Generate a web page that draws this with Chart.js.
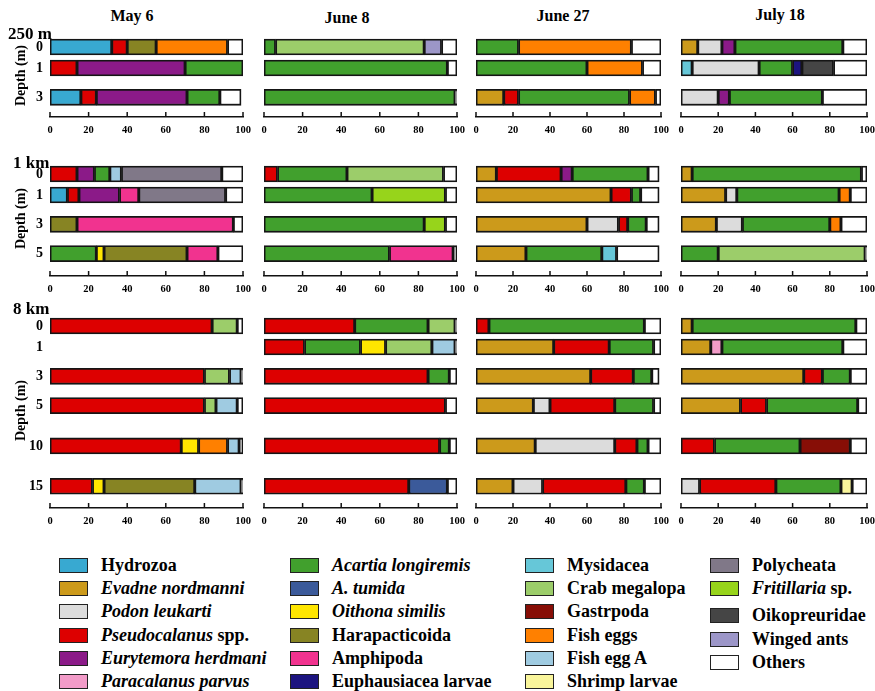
<!DOCTYPE html>
<html>
<head>
<meta charset="utf-8">
<script src="https://cdn.jsdelivr.net/npm/chart.js@4.4.1/dist/chart.umd.min.js"></script>
<style>
  html, body { margin: 0; padding: 0; background: #fff; }
  body { width: 875px; height: 691px; overflow: hidden; position: relative;
         font-family: "Liberation Serif", "Times New Roman", serif; font-weight: bold; color: #000; }
  canvas { position: absolute; }
  .lbl { position: absolute; white-space: nowrap; font-weight: bold; }
  .date { font-size: 16px; line-height: 16px; width: 120px; text-align: center; }
  .station { font-size: 17px; line-height: 17px; }
  .legcol { position: absolute; }
  .legrow { height: 23.2px; display: flex; align-items: center; font-size: 18px; white-space: nowrap; }
  .sw { width: 29px; height: 15px; box-sizing: border-box; border: 1.5px solid #222; margin-right: 13px; flex: none; }
</style>
</head>
<body>
<script>
// ---- taxa (legend order) ----
const taxonKeys = ['HYD','EVA','POD','PSE','EUR','PAR','ACA','ATU','OIT','HAR','AMP','EUP',
                   'MYS','CRA','GAS','FEG','FEA','SHR','POL','FRI','OIK','ANT','OTH'];
const taxonNames = ['Hydrozoa','Evadne nordmanni','Podon leukarti','Pseudocalanus spp.','Eurytemora herdmani',
  'Paracalanus parvus','Acartia longiremis','A. tumida','Oithona similis','Harapacticoida','Amphipoda',
  'Euphausiacea larvae','Mysidacea','Crab megalopa','Gastrpoda','Fish eggs','Fish egg A','Shrimp larvae',
  'Polycheata','Fritillaria sp.','Oikopreuridae','Winged ants','Others'];
const italicTaxa = ['Evadne nordmanni','Podon leukarti','Eurytemora herdmani','Paracalanus parvus',
  'Acartia longiremis','A. tumida','Oithona similis'];
const taxonColors = ['#38a9d1','#cc9a1b','#dcdcdc','#dd0000','#8b1a88','#f29bc8','#41a02d','#3b5a9a',
  '#ffe600','#878423','#f1338f','#1c1480','#66c7d8','#9ccd6a','#870e06','#ff8000','#9fcbe1','#f9f59b',
  '#807888','#97d41b','#454545','#9c96c8','#ffffff'];

const sampleDates = ['May 6','June 8','June 27','July 18'];
const stations = ['250 m','1 km','8 km'];
const depths250m = [0, 1, 3];
const depths1km = [0, 1, 3, 5];
const depths8km = [0, 1, 3, 5, 10, 15];
const percentTicks = [0, 20, 40, 60, 80, 100];

// ---- composition (%) per depth, segments listed left to right ----
// 250 m station
const st250_may6 = [
  [['HYD',32],['PSE',8],['HAR',15],['FEG',37],['OTH',8]],
  [['PSE',14],['EUR',56],['ACA',30],['OTH',1]],
  [['HYD',16],['PSE',8],['EUR',47],['ACA',17],['OTH',11]]
];
const st250_jun8 = [
  [['ACA',6],['CRA',77],['ANT',9],['OTH',8]],
  [['ACA',95],['OTH',5]],
  [['ACA',99],['OTH',1]]
];
const st250_jun27 = [
  [['ACA',23],['FEG',61],['OTH',16]],
  [['ACA',60],['FEG',30],['OTH',10]],
  [['EVA',15],['PSE',8],['ACA',60],['FEG',14],['OTH',3]]
];
const st250_jul18 = [
  [['EVA',9],['POD',13],['EUR',7],['ACA',58],['OTH',13]],
  [['MYS',6],['POD',36],['ACA',18],['EUP',5],['OIK',17],['OTH',18]],
  [['POD',20],['EUR',6],['ACA',50],['OTH',24]]
];
// 1 km station
const st1k_may6 = [
  [['PSE',14],['EUR',9],['ACA',8],['FEA',6],['POL',52],['OTH',11]],
  [['HYD',9],['PSE',6],['EUR',21],['AMP',10],['POL',45],['OTH',9]],
  [['HAR',14],['AMP',81],['OTH',5]],
  [['ACA',24],['OIT',4],['HAR',43],['AMP',16],['OTH',13]]
];
const st1k_jun8 = [
  [['PSE',7],['ACA',36],['CRA',50],['OTH',7]],
  [['ACA',56],['FRI',38],['OTH',6]],
  [['ACA',83],['FRI',11],['OTH',6]],
  [['ACA',65],['AMP',33],['OTH',2]]
];
const st1k_jun27 = [
  [['EVA',11],['PSE',35],['EUR',6],['ACA',41],['OTH',6]],
  [['EVA',73],['PSE',11],['ACA',5],['OTH',10]],
  [['EVA',60],['POD',17],['PSE',5],['ACA',10],['OTH',7]],
  [['EVA',27],['ACA',41],['MYS',8],['OTH',23]]
];
const st1k_jul18 = [
  [['EVA',6],['ACA',91],['OTH',3]],
  [['EVA',24],['POD',6],['ACA',55],['FEG',6],['OTH',9]],
  [['EVA',19],['POD',14],['ACA',47],['FEG',6],['OTH',14]],
  [['ACA',20],['CRA',79],['OTH',1]]
];
// 8 km station
const st8k_may6 = [
  [['PSE',84],['CRA',13],['OTH',3]],
  [],
  [['PSE',80],['CRA',13],['FEA',6],['OTH',1]],
  [['PSE',80],['CRA',6],['FEA',11],['OTH',3]],
  [['PSE',68],['OIT',9],['FEG',15],['FEA',6],['OTH',2]],
  [['PSE',22],['OIT',6],['HAR',47],['FEA',24],['OTH',1]]
];
const st8k_jun8 = [
  [['PSE',47],['ACA',38],['CRA',14],['OTH',1]],
  [['PSE',21],['ACA',29],['OIT',13],['CRA',24],['FEA',12],['OTH',1]],
  [['PSE',85],['ACA',11],['OTH',4]],
  [['PSE',94],['OTH',6]],
  [['PSE',91],['ACA',5],['OTH',4]],
  [['PSE',75],['ATU',20],['OTH',5]]
];
const st8k_jun27 = [
  [['PSE',7],['ACA',84],['OTH',9]],
  [['EVA',42],['PSE',30],['ACA',24],['OTH',4]],
  [['EVA',62],['PSE',23],['ACA',10],['OTH',4]],
  [['EVA',31],['POD',9],['PSE',35],['ACA',21],['OTH',4]],
  [['EVA',32],['POD',43],['PSE',12],['ACA',6],['OTH',7]],
  [['EVA',20],['POD',16],['PSE',45],['ACA',10],['OTH',9]]
];
const st8k_jul18 = [
  [['EVA',6],['ACA',88],['OTH',6]],
  [['EVA',16],['PAR',6],['ACA',65],['OTH',13]],
  [['EVA',66],['PSE',10],['ACA',15],['OTH',9]],
  [['EVA',32],['PSE',14],['ACA',49],['OTH',5]],
  [['PSE',18],['ACA',46],['GAS',27],['OTH',9]],
  [['POD',10],['PSE',41],['ACA',35],['SHR',6],['OTH',8]]
];

// ---- page layout ----
const colRange = [[50, 243], [264, 457], [476, 661], [681, 867]];   // pixel span of 0..100 %
const groupLayout = [
  { depths: depths250m, panels: [st250_may6, st250_jun8, st250_jun27, st250_jul18], top: 47,  axis: 117 },
  { depths: depths1km,  panels: [st1k_may6, st1k_jun8, st1k_jun27, st1k_jul18],     top: 174, axis: 276 },
  { depths: depths8km,  panels: [st8k_may6, st8k_jun8, st8k_jun27, st8k_jul18],     top: 326, axis: 508 }
];
const BAR_PAD = 13;      // space above the first bar
const XAXIS_H = 24;      // height reserved for the percent labels
const YAXIS_W = 50;      // depth labels + axis title in the first column
const FONT = '"Liberation Serif", "Times New Roman", serif';

// Rows are placed on a compressed depth scale so deep casts stay compact
function depthSlots(depths) {
  const out = [0];
  for (let i = 1; i < depths.length; i++) {
    out.push(out[i - 1] + 21 + 12 * Math.log(depths[i] - depths[i - 1]));
  }
  return out;
}

// Tick marks on the percent axis point up into the plot
const inwardTicks = {
  id: 'inwardTicks',
  afterDraw(chart) {
    const xs = chart.scales.x, c = chart.ctx;
    c.save();
    c.strokeStyle = '#111';
    c.lineWidth = 1.5;
    xs.ticks.forEach(t => {
      const px = xs.getPixelForValue(t.value);
      c.beginPath();
      c.moveTo(px, xs.top);
      c.lineTo(px, xs.top - 5);
      c.stroke();
    });
    c.restore();
  }
};

function buildDatasets(bars, slots) {
  return taxonKeys.map((key, ti) => {
    const pts = [];
    bars.forEach((segs, di) => {
      let start = 0;
      segs.forEach(([k, v]) => {
        if (k === key) pts.push({ x: [start, start + v], y: slots[di] });
        start += v;
      });
    });
    return {
      label: taxonNames[ti],
      data: pts,
      backgroundColor: taxonColors[ti],
      borderColor: '#151515',
      borderWidth: 1.8,
      borderSkipped: false,
      barThickness: 16,
      grouped: false
    };
  }).filter(ds => ds.data.length);
}

function makePanel(group, col) {
  const slots = depthSlots(group.depths);
  const [L, R] = colRange[col];
  const first = col === 0;
  const padL = first ? 0 : 12;
  const padR = 8;
  const yW = first ? YAXIS_W : 0;
  const left = L - yW - padL;
  const width = (R - L) + yW + padL + padR;
  const plotH = group.axis - group.top + BAR_PAD;
  const cv = document.createElement('canvas');
  cv.width = width;
  cv.height = plotH + XAXIS_H;
  cv.style.left = left + 'px';
  cv.style.top = (group.top - BAR_PAD) + 'px';
  document.body.appendChild(cv);

  new Chart(cv.getContext('2d'), {
    type: 'bar',
    data: { datasets: buildDatasets(group.panels[col], slots) },
    options: {
      indexAxis: 'y',
      responsive: false,
      animation: false,
      events: [],
      layout: { padding: { left: padL, right: padR, top: 0, bottom: 0 } },
      plugins: { legend: { display: false }, tooltip: { enabled: false }, title: { display: false } },
      scales: {
        x: {
          type: 'linear', position: 'bottom', min: 0, max: 100,
          grid: { display: false, drawTicks: false },
          border: { display: true, color: '#111', width: 1.5 },
          afterBuildTicks: s => { s.ticks = percentTicks.map(v => ({ value: v })); },
          afterFit: s => { s.height = XAXIS_H; s.paddingLeft = 0; s.paddingRight = 0; },
          ticks: { color: '#000', padding: 7, maxRotation: 0, autoSkip: false,
                   font: { family: FONT, weight: 'bold', size: 10.5 } }
        },
        y: {
          type: 'linear', reverse: true, offset: false,
          min: -BAR_PAD, max: group.axis - group.top,
          display: first,
          grid: { display: false, drawTicks: false },
          border: { display: false },
          afterBuildTicks: s => { s.ticks = slots.map(v => ({ value: v })); },
          afterFit: s => { s.width = yW; s.paddingTop = 0; s.paddingBottom = 0; },
          ticks: {
            color: '#000', padding: 7, autoSkip: false,
            font: { family: FONT, weight: 'bold', size: 14 },
            callback: v => {
              const i = slots.findIndex(s => Math.abs(s - v) < 1e-6);
              return i >= 0 ? String(group.depths[i]) : '';
            }
          },
          title: { display: true, text: 'Depth (m)', color: '#000',
                   padding: { top: 13, bottom: 0 },
                   font: { family: FONT, weight: 'bold', size: 14 } }
        }
      }
    },
    plugins: [inwardTicks]
  });
}

groupLayout.forEach(g => [0, 1, 2, 3].forEach(c => makePanel(g, c)));

// ---- headings ----
function addLabel(text, cls, x, y) {
  const d = document.createElement('div');
  d.className = 'lbl ' + cls;
  d.textContent = text;
  d.style.left = x + 'px';
  d.style.top = y + 'px';
  document.body.appendChild(d);
}
const dateCenters = [[132, 8], [347, 10], [563, 8], [780, 7]];
sampleDates.forEach((t, i) => addLabel(t, 'date', dateCenters[i][0] - 60, dateCenters[i][1]));
const stationPos = [[8, 25], [13, 154], [13, 300]];
stations.forEach((t, i) => addLabel(t, 'station', stationPos[i][0], stationPos[i][1]));

// ---- legend ----
function legendLabel(name) {
  const m = name.match(/^(\S+) (spp?\.)$/);
  if (m) return '<i>' + m[1] + '</i> ' + m[2];
  return italicTaxa.includes(name) ? '<i>' + name + '</i>' : name;
}
const legendCols = [[59, 0, 6], [290, 6, 12], [525, 12, 18], [710, 18, 23]];
legendCols.forEach(([x, a, b], ci) => {
  const col = document.createElement('div');
  col.className = 'legcol';
  col.style.left = x + 'px';
  col.style.top = '554px';
  for (let i = a; i < b; i++) {
    const row = document.createElement('div');
    row.className = 'legrow';
    if (ci === 3 && i - a === 2) row.style.marginTop = '4px';
    const sw = document.createElement('span');
    sw.className = 'sw';
    sw.style.background = taxonColors[i];
    const tx = document.createElement('span');
    tx.innerHTML = legendLabel(taxonNames[i]);
    row.appendChild(sw);
    row.appendChild(tx);
    col.appendChild(row);
  }
  document.body.appendChild(col);
});
</script>
</body>
</html>
